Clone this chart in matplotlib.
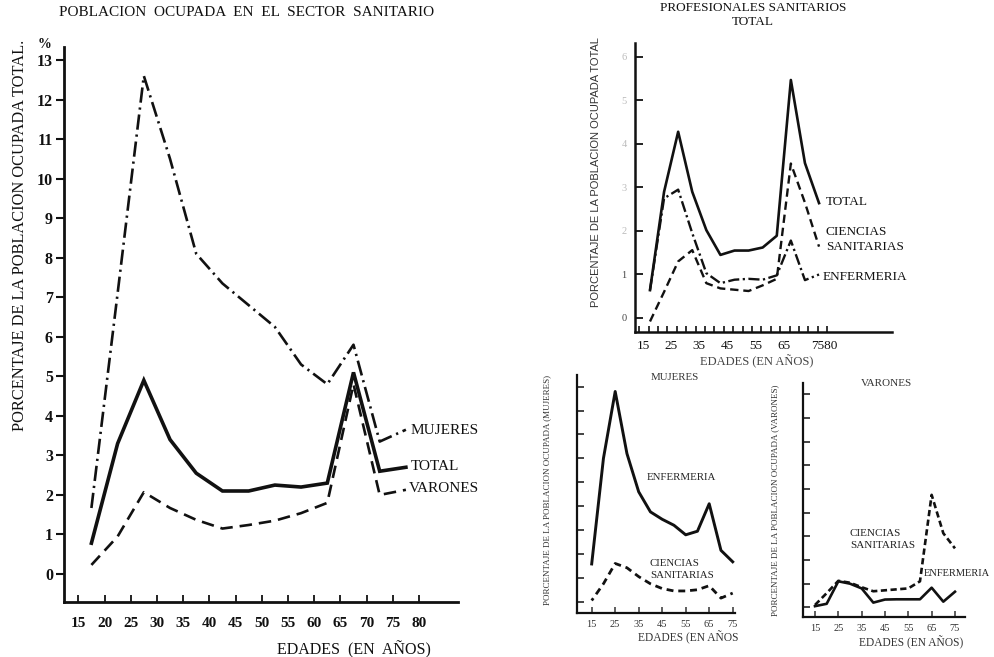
import numpy as np
import matplotlib
matplotlib.use('Agg')
import matplotlib.pyplot as plt

W, H = 995, 657
SERIF = ['Liberation Serif', 'DejaVu Serif']
SANS = ['Liberation Sans', 'DejaVu Sans']
plt.rcParams['font.family'] = SERIF
plt.rcParams['lines.scale_dashes'] = False

INK = '#111111'

# ---------------- data ----------------
ages_mid = [17.5, 22.5, 27.5, 32.5, 37.5, 42.5, 47.5, 52.5, 57.5, 62.5, 67.5, 72.5, 77.5]
ages_start = [15, 20, 25, 30, 35, 40, 45, 50, 55, 60, 65, 70, 75]

# Poblacion ocupada en el sector sanitario (% of total employed population)
main_total = [0.78, 3.3, 4.9, 3.4, 2.55, 2.1, 2.1, 2.25, 2.2, 2.3, 5.1, 2.6, 2.7]
main_mujeres = [1.67, 7.1, 12.6, 10.5, 8.1, 7.35, 6.8, 6.25, 5.3, 4.8, 5.8, 3.35, 3.65]
main_varones = [0.23, 0.95, 2.07, 1.67, 1.37, 1.15, 1.24, 1.35, 1.54, 1.8, 4.8, 2.0, 2.13]

# Profesionales sanitarios - total
prof_total = [0.64, 2.9, 4.28, 2.9, 2.02, 1.45, 1.55, 1.55, 1.62, 1.89, 5.47, 3.56, 2.64]
prof_ciencias = [-0.08, 0.6, 1.3, 1.56, 0.8, 0.68, 0.65, 0.62, 0.75, 0.9, 3.55, 2.65, 1.64]
prof_enfermeria = [0.64, 2.75, 2.95, 1.95, 1.03, 0.8, 0.88, 0.9, 0.88, 0.98, 1.78, 0.87, 1.0]

# Mujeres
muj_enfermeria = [1.58, 6.0, 8.8, 6.2, 4.6, 3.76, 3.45, 3.2, 2.8, 2.95, 4.1, 2.15, 1.67]
muj_ciencias = [0.05, 0.75, 1.6, 1.42, 1.05, 0.75, 0.55, 0.45, 0.45, 0.5, 0.67, 0.15, 0.36]

# Varones
var_enfermeria = [0.05, 0.15, 1.1, 1.0, 0.8, 0.2, 0.33, 0.34, 0.34, 0.34, 0.83, 0.24, 0.66]
var_ciencias = [0.1, 0.6, 1.12, 1.04, 0.85, 0.68, 0.72, 0.76, 0.8, 1.1, 4.75, 3.13, 2.49]

main_xticks = list(range(15, 85, 5))
main_yticks = list(range(0, 14))
prof_xlabels = ['15', '25', '35', '45', '55', '65', '7580']
prof_xlabel_pos = [15, 25, 35, 45, 55, 65, 79.5]
prof_yticks = list(range(0, 7))
small_xticks = [15, 25, 35, 45, 55, 65, 75]
small_yticks = list(range(0, 10))

# ---------------- helpers ----------------
fig = plt.figure(figsize=(W / 100, H / 100), dpi=100)


def px_axes(l, t, r, b):
    ax = fig.add_axes([l / W, 1 - b / H, (r - l) / W, (b - t) / H])
    ax.patch.set_alpha(0)
    for s in ('top', 'right'):
        ax.spines[s].set_visible(False)
    return ax


def ftext(x, y, s, **kw):
    kw.setdefault('color', INK)
    fig.text(x / W, 1 - y / H, s, **kw)


# ---------------- main chart ----------------
ax = px_axes(64, 47, 458, 601.7)
ax.set_xlim(12.27, 87.44)
ax.set_ylim(-0.70, 13.33)
for s in ('left', 'bottom'):
    ax.spines[s].set_linewidth(2.0)
    ax.spines[s].set_color(INK)
ax.set_xticks(main_xticks)
ax.set_xticklabels([str(v) for v in main_xticks])
ax.set_yticks(main_yticks)
ax.set_yticklabels([str(v) for v in main_yticks])
ax.tick_params(axis='x', direction='in', length=5, width=1.3, pad=11,
               labelsize=11, colors=INK)
ax.tick_params(axis='y', direction='out', length=6, width=1.5, pad=2,
               labelsize=11.5, colors=INK)
for t in ax.get_xticklabels() + ax.get_yticklabels():
    t.set_fontweight('bold')

ax.plot(ages_mid, main_mujeres, color=INK, lw=1.9, ls=(0, (11, 3.5, 1.6, 3.5)))
ax.plot(ages_mid, main_total, color=INK, lw=2.6, solid_joinstyle='miter')
ax.plot(ages_mid, main_varones, color=INK, lw=1.9, ls=(0, (9, 5)))

ftext(247, 13, 'POBLACION  OCUPADA  EN  EL  SECTOR  SANITARIO', fontsize=11,
      ha='center', va='center')
ftext(45, 44, '%', fontsize=10, ha='center', va='center', fontweight='bold')
ftext(20, 235, 'PORCENTAJE DE LA POBLACION OCUPADA TOTAL.', fontsize=11.8,
      rotation=90, ha='center', va='center')
ftext(354, 650, 'EDADES  (EN  AÑOS)', fontsize=11.5, ha='center', va='center')
ftext(411, 430, 'MUJERES', fontsize=11, ha='left', va='center')
ftext(411, 467, 'TOTAL', fontsize=11, ha='left', va='center')
ftext(409, 489, 'VARONES', fontsize=11, ha='left', va='center')

# ---------------- profesionales sanitarios total ----------------
ax2 = px_axes(635, 43, 892, 331.7)
ax2.set_xlim(12.18, 103.4)
ax2.set_ylim(-0.315, 6.32)
for s in ('left', 'bottom'):
    ax2.spines[s].set_linewidth(1.8)
    ax2.spines[s].set_color(INK)
ax2.set_xticks(prof_xlabel_pos)
ax2.set_xticklabels(prof_xlabels)
ax2.set_xticks(np.arange(13.7, 81, 10 / 3), minor=True)
ax2.tick_params(axis='x', which='major', length=0, pad=6, labelsize=9.5, colors=INK)
ax2.tick_params(axis='x', which='minor', direction='in', length=4, width=1.2, color=INK)
ax2.set_yticks(prof_yticks)
ax2.set_yticklabels([str(v) for v in prof_yticks])
ax2.tick_params(axis='y', direction='in', length=6, width=1.3, pad=6,
                labelsize=7.5, colors=INK)
for i, t in enumerate(ax2.get_yticklabels()):
    t.set_color('#444444' if i < 2 else '#bbbbbb')

ax2.plot(ages_mid, prof_total, color=INK, lw=1.9)
ax2.plot(ages_mid, prof_ciencias, color=INK, lw=1.7, ls=(0, (6, 3.5)))
ax2.plot(ages_mid, prof_enfermeria, color=INK, lw=1.7, ls=(0, (8, 2.5, 1.6, 2.5)))

ftext(753, 8, 'PROFESIONALES SANITARIOS', fontsize=9.5, ha='center', va='center')
ftext(753, 22, 'TOTAL', fontsize=9.5, ha='center', va='center')
ftext(596, 172, 'PORCENTAJE DE LA POBLACION OCUPADA TOTAL', family=SANS,
      fontsize=8, rotation=90, ha='center', va='center', color='#333333')
ftext(757, 361, 'EDADES (EN AÑOS)', fontsize=9, ha='center', va='center',
      color='#444444')
ftext(826, 202, 'TOTAL', fontsize=9.5, ha='left', va='center')
ftext(826, 232, 'CIENCIAS', fontsize=9.5, ha='left', va='center')
ftext(826, 247, 'SANITARIAS', fontsize=9.5, ha='left', va='center')
ftext(823, 277, 'ENFERMERIA', fontsize=9.5, ha='left', va='center')

# ---------------- mujeres ----------------
ax3 = px_axes(576.7, 375, 735, 613)
ax3.set_xlim(8.62, 75.98)
ax3.set_ylim(-0.473, 9.49)
for s in ('left', 'bottom'):
    ax3.spines[s].set_linewidth(1.6)
    ax3.spines[s].set_color(INK)
ax3.set_xticks(small_xticks)
ax3.set_xticklabels([str(v) for v in small_xticks])
ax3.tick_params(axis='x', direction='in', length=4, width=1.1, pad=5,
                labelsize=7.5, colors='#333333')
ax3.set_yticks(small_yticks)
ax3.set_yticklabels([])
ax3.tick_params(axis='y', direction='in', length=5, width=1.1, color=INK)

ax3.plot(ages_start, muj_enfermeria, color=INK, lw=2.1)
ax3.plot(ages_start, muj_ciencias, color=INK, lw=2.0, ls=(3, (5, 3.5)))

ftext(675, 377, 'MUJERES', fontsize=7.8, ha='center', va='center', color='#333333')
ftext(547, 490, 'PORCENTAJE DE LA POBLACION OCUPADA (MUJERES)', fontsize=6.5,
      rotation=90, ha='center', va='center', color='#333333')
ftext(647, 478, 'ENFERMERIA', fontsize=7.8, ha='left', va='center', color='#222222')
ftext(650, 563, 'CIENCIAS', fontsize=7.8, ha='left', va='center', color='#222222')
ftext(650, 575, 'SANITARIAS', fontsize=7.8, ha='left', va='center', color='#222222')
ftext(688, 638, 'EDADES (EN AÑOS', fontsize=8.3, ha='center', va='center',
      color='#333333')

# ---------------- varones ----------------
ax4 = px_axes(802.7, 383.3, 965, 617.3)
ax4.set_xlim(9.73, 79.3)
ax4.set_ylim(-0.42, 9.46)
for s in ('left', 'bottom'):
    ax4.spines[s].set_linewidth(1.6)
    ax4.spines[s].set_color(INK)
ax4.set_xticks(small_xticks)
ax4.set_xticklabels([str(v) for v in small_xticks])
ax4.tick_params(axis='x', direction='in', length=4, width=1.1, pad=5,
                labelsize=7.5, colors='#333333')
ax4.set_yticks(small_yticks)
ax4.set_yticklabels([])
ax4.tick_params(axis='y', direction='in', length=5, width=1.1, color=INK)

ax4.plot(ages_start, var_ciencias, color=INK, lw=1.9, ls=(0, (4.5, 2.5)))
ax4.plot(ages_start, var_enfermeria, color=INK, lw=1.9)

ftext(887, 383, 'VARONES', fontsize=8, ha='center', va='center', color='#333333')
ftext(775, 500, 'PORCENTAJE DE LA POBLACION OCUPADA (VARONES)', fontsize=6.5,
      rotation=90, ha='center', va='center', color='#333333')
ftext(850, 533, 'CIENCIAS', fontsize=8, ha='left', va='center', color='#222222')
ftext(850, 546, 'SANITARIAS', fontsize=8, ha='left', va='center', color='#222222')
ftext(924, 573, 'ENFERMERIA', fontsize=7.5, ha='left', va='center', color='#222222')
ftext(911, 643, 'EDADES (EN AÑOS)', fontsize=8.3, ha='center', va='center',
      color='#333333')

fig.savefig('out.png', dpi=100)
